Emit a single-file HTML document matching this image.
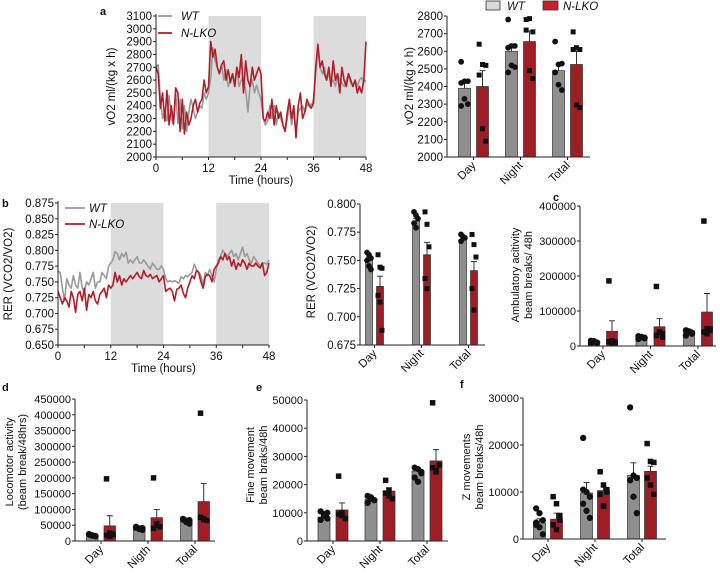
<!DOCTYPE html>
<html><head><meta charset="utf-8"><style>
html,body{margin:0;padding:0;background:#fff;}
svg{display:block;font-family:"Liberation Sans",Arial,sans-serif;}
</style></head><body>
<svg id="fig" width="720" height="573" viewBox="0 0 720 573" xmlns="http://www.w3.org/2000/svg"></svg>
<script>
// ---------- Data ----------
const vo2WT = [2700,2720,2450,2300,2350,2280,2480,2300,2250,2500,2260,2450,2220,2400,2200,2350,2450,2380,2300,2350,2400,2380,2500,2450,2500,2620,2850,2750,2700,2650,2720,2600,2680,2550,2600,2650,2580,2700,2550,2600,2620,2520,2350,2550,2600,2500,2560,2500,2450,2300,2250,2280,2400,2300,2400,2250,2350,2300,2250,2200,2300,2400,2250,2350,2200,2350,2380,2400,2350,2400,2420,2400,2450,2650,2850,2700,2650,2700,2600,2650,2580,2600,2550,2650,2600,2580,2550,2600,2650,2580,2550,2600,2550,2600,2620,2580,2600];
const vo2KO = [2700,2650,2380,2500,2280,2520,2250,2400,2260,2540,2500,2200,2450,2180,2350,2250,2300,2400,2450,2350,2420,2450,2600,2500,2550,2900,2780,2840,2700,2650,2720,2750,2600,2680,2580,2650,2550,2700,2620,2800,2500,2750,2600,2550,2700,2600,2650,2700,2650,2300,2280,2350,2300,2450,2250,2400,2300,2350,2250,2200,2350,2450,2300,2400,2150,2400,2500,2300,2350,2450,2400,2380,2420,2700,2880,2700,2750,2650,2600,2700,2550,2750,2600,2650,2500,2700,2600,2550,2650,2600,2550,2600,2500,2550,2500,2600,2900];
const rerWT = [0.767,0.765,0.74,0.72,0.755,0.745,0.74,0.76,0.745,0.74,0.765,0.74,0.735,0.75,0.745,0.755,0.765,0.74,0.75,0.75,0.765,0.76,0.755,0.775,0.78,0.785,0.798,0.795,0.785,0.795,0.79,0.797,0.78,0.785,0.78,0.785,0.79,0.78,0.78,0.785,0.78,0.775,0.77,0.78,0.775,0.77,0.77,0.775,0.77,0.755,0.75,0.752,0.75,0.752,0.75,0.748,0.758,0.755,0.76,0.758,0.762,0.765,0.778,0.77,0.765,0.76,0.745,0.765,0.76,0.77,0.76,0.75,0.77,0.785,0.79,0.8,0.795,0.79,0.795,0.8,0.79,0.795,0.785,0.795,0.805,0.79,0.795,0.785,0.78,0.79,0.785,0.78,0.775,0.78,0.78,0.778,0.785];
const rerKO = [0.735,0.725,0.715,0.725,0.72,0.71,0.735,0.725,0.702,0.73,0.735,0.72,0.74,0.705,0.73,0.725,0.735,0.72,0.715,0.73,0.735,0.74,0.725,0.745,0.74,0.745,0.765,0.75,0.76,0.745,0.755,0.75,0.755,0.76,0.755,0.76,0.765,0.758,0.755,0.768,0.76,0.758,0.762,0.755,0.758,0.76,0.75,0.755,0.76,0.735,0.738,0.74,0.735,0.72,0.738,0.74,0.745,0.732,0.725,0.74,0.75,0.76,0.755,0.768,0.765,0.75,0.74,0.758,0.762,0.76,0.75,0.77,0.775,0.78,0.79,0.785,0.795,0.785,0.79,0.775,0.785,0.77,0.78,0.775,0.785,0.78,0.77,0.78,0.775,0.775,0.78,0.775,0.772,0.78,0.76,0.765,0.78];
const timeTicks = [0,12,24,36,48];
const darkPeriods = [[12,24],[36,48]];
const vo2LineTicks = [2000,2100,2200,2300,2400,2500,2600,2700,2800,2900,3000,3100];
const rerLineTicks = [0.650,0.675,0.700,0.725,0.750,0.775,0.800,0.825,0.850,0.875];

const categoriesA = ["Day","Night","Total"];
const categoriesD = ["Day","Nigth","Total"];

const vo2BarWT = [2390,2600,2490];
const vo2BarKO = [2400,2655,2525];
const vo2ErrWT = [30,40,35];
const vo2ErrKO = [90,60,75];
const vo2PtsWT = [[2540,2430,2430,2420,2330,2300,2290],[2780,2630,2630,2620,2520,2510,2480],[2655,2525,2530,2480,2410,2380]];
const vo2PtsKO = [[2640,2525,2520,2465,2160,2090],[2780,2785,2710,2720,2490,2445],[2710,2620,2610,2610,2295,2280]];
const vo2BarTicks = [2000,2100,2200,2300,2400,2500,2600,2700,2800];

const rerBarWT = [0.751,0.785,0.768];
const rerBarKO = [0.727,0.755,0.741];
const rerErrWT = [0.002,0.002,0.001];
const rerErrKO = [0.009,0.011,0.008];
const rerPtsWT = [[0.757,0.755,0.752,0.750,0.745,0.742],[0.793,0.790,0.787,0.783,0.779],[0.773,0.771,0.770,0.767]];
const rerPtsKO = [[0.755,0.744,0.743,0.719,0.713,0.688],[0.793,0.782,0.762,0.734,0.725],[0.773,0.764,0.753,0.725,0.706]];
const rerBarTicks = [0.675,0.700,0.725,0.750,0.775,0.800];

const ambBarWT = [12000,25000,38000];
const ambBarKO = [42000,55000,97000];
const ambErrWT = [2000,2000,3000];
const ambErrKO = [30000,23000,53000];
const ambPtsWT = [[15000,12000,10000,8000,14000,9000],[28000,25000,22000,20000,26000,24000],[45000,40000,35000,30000,42000,38000]];
const ambPtsKO = [[186000,15000,10000,12000,8000,10000],[170000,40000,35000,30000,40000,25000],[357000,50000,45000,40000,35000,48000]];
const ambTicks = [0,100000,200000,300000,400000];

const locBarWT = [18000,40000,62000];
const locBarKO = [48000,74000,125000];
const locErrWT = [2000,2500,3000];
const locErrKO = [32000,26000,57000];
const locPtsWT = [[22000,18000,15000,20000,17000,16000],[45000,40000,35000,42000,38000,41000],[70000,65000,55000,68000,60000,66000]];
const locPtsKO = [[197000,25000,20000,18000,15000,22000],[200000,55000,45000,40000,50000],[405000,70000,65000,75000,68000]];
const locTicks = [0,50000,100000,150000,200000,250000,300000,350000,400000,450000];

const fineBarWT = [8500,14800,24800];
const fineBarKO = [11000,17700,28400];
const fineErrWT = [600,500,900];
const fineErrKO = [2500,1200,4000];
const finePtsWT = [[10500,9500,8000,7500,9000,10000],[16000,15500,14500,13500,15000],[26000,25500,24000,22500,21000,24500]];
const finePtsKO = [[23000,9000,8000,9500,10000],[21500,16000,15000,17000,18000],[49000,25000,27000,26000,24500]];
const fineTicks = [0,10000,20000,30000,40000,50000];

const zBarWT = [3400,9800,13500];
const zBarKO = [4200,10300,14400];
const zErrWT = [900,2200,2700];
const zErrKO = [1300,800,1100];
const zPtsWT = [[6500,5500,4000,3500,2500,1000,3000],[21500,10000,9000,7500,6000,4500,10500],[28000,13500,13000,12500,9000,5500]];
const zPtsKO = [[9000,7500,4000,3000,2000,5000],[14300,11500,10500,9500,7000,10000],[20300,16500,16300,13000,11500,9500]];
const zTicks = [0,10000,20000,30000];

// ---------- Helpers ----------
const NS = "http://www.w3.org/2000/svg";
const svg = document.getElementById("fig");
const GREY = "#8e8e8e", RED = "#9f1d25", LGREY = "#9a9a9a", LRED = "#b01e28";
function mk(tag, attrs, parent){
  const e = document.createElementNS(NS, tag);
  for (const k in attrs) e.setAttribute(k, attrs[k]);
  (parent||svg).appendChild(e);
  return e;
}
function txt(x,y,s,size,anchor,parent,extra){
  const t = mk("text",Object.assign({x:x,y:y,"font-size":size,"text-anchor":anchor||"start",fill:"#111"},extra||{}),parent);
  t.textContent = s;
  return t;
}
function lin(d0,d1,r0,r1){ return v => r0 + (v-d0)/(d1-d0)*(r1-r0); }

function panelLetter(x,y,s){
  const t = txt(x,y,s,11,"start",svg,{"font-weight":"bold"});
  
  
}

// ---------- Time-course line panel ----------
function linePanel(cfg){
  const g = mk("g",{});
  
  
  const X = lin(0,48,cfg.x0,cfg.x1), Y = lin(cfg.ymin,cfg.ymax,cfg.yb,cfg.yt);
  darkPeriods.forEach(p=>{
    const r = mk("rect",{x:X(p[0]),y:cfg.yt,width:X(p[1])-X(p[0]),height:cfg.yb-cfg.yt,fill:"#dcdcdc"},g);
    
    
  });
  const series = [[cfg.wt,LGREY,"wt-line"],[cfg.ko,LRED,"nlko-line"]];
  series.forEach(s=>{
    const n = s[0].length;
    const pts = s[0].map((v,i)=>X(i*48/(n-1)).toFixed(1)+","+Y(v).toFixed(1)).join(" ");
    const pl = mk("polyline",{points:pts,fill:"none",stroke:s[1],"stroke-width":1.6,"stroke-linejoin":"round"},g);
    
    
  });
  mk("line",{x1:cfg.x0,y1:cfg.yt-2,x2:cfg.x0,y2:cfg.yb,stroke:"#222","stroke-width":1},g);
  mk("line",{x1:cfg.x0,y1:cfg.yb,x2:cfg.x1,y2:cfg.yb,stroke:"#222","stroke-width":1},g);
  cfg.yticks.forEach(v=>{
    mk("line",{x1:cfg.x0-3,y1:Y(v),x2:cfg.x0,y2:Y(v),stroke:"#222"},g);
    const t = txt(cfg.x0-4,Y(v)+4,cfg.fmt(v),11.5,"end",g);
    
    
  });
  for(let h=0;h<=48;h+=6){ mk("line",{x1:X(h),y1:cfg.yb,x2:X(h),y2:cfg.yb+3,stroke:"#222"},g); }
  timeTicks.forEach(h=>{
    const t = txt(X(h),cfg.yb+15,String(h),11.5,"middle",g);
    
    
  });
  const xt = txt((cfg.x0+cfg.x1)/2,cfg.yb+27,"Time (hours)",11.5,"middle",g);
  
  
  const yt = txt(0,0,cfg.ylabel,11.5,"middle",g,{transform:`translate(${cfg.ylx},${(cfg.yt+cfg.yb)/2}) rotate(-90)`});
  
  
  const L = cfg.legend;
  [["WT",LGREY,0],["N-LKO",LRED,1]].forEach(e=>{
    const lg = mk("g",{},g);
    
    
    const yy = L.y + e[2]*L.dy;
    mk("line",{x1:L.x,y1:yy,x2:L.x+L.w,y2:yy,stroke:e[1],"stroke-width":1.8},lg);
    txt(L.tx,yy+4,e[0],11.5,"start",lg,{"font-style":"italic"});
  });
}

// ---------- Bar panel ----------
function barPanel(cfg){
  const g = mk("g",{});
  
  
  const Y = lin(cfg.ymin,cfg.ymax,cfg.yb,cfg.yt);
  const bw = cfg.bw;
  const fs = cfg.fs || 11.5;
  cfg.cats.forEach((c,i)=>{
    const cx = cfg.first + i*cfg.step;
    const groups = [[cfg.wt,cfg.ewt,cfg.pwt,GREY,cx-cfg.gap/2-bw/2,"wt","circle"],[cfg.ko,cfg.eko,cfg.pko,RED,cx+cfg.gap/2+bw/2,"nlko","square"]];
    groups.forEach(gr=>{
      const v = gr[0][i], bx = gr[4];
      const r = mk("rect",{x:bx-bw/2,y:Y(v),width:bw,height:cfg.yb-Y(v),fill:gr[3],stroke:"#333","stroke-width":0.7},g);
      
      
      const e = gr[1][i];
      const eb = mk("path",{d:`M${bx},${Y(v)} V${Y(v+e)} M${bx-3},${Y(v+e)} H${bx+3}`,stroke:"#222","stroke-width":0.9,fill:"none"},g);
      
      
      gr[2][i].forEach((p,j)=>{
        const ox = ((j%3)-1)*bw*0.28;
        let m;
        if(gr[6]==="circle") m = mk("circle",{cx:bx+ox,cy:Y(p),r:cfg.ms/2+0.4,fill:"#111"},g);
        else m = mk("rect",{x:bx+ox-cfg.ms/2,y:Y(p)-cfg.ms/2,width:cfg.ms,height:cfg.ms,fill:"#111"},g);
        
        
      });
    });
    mk("line",{x1:cx,y1:cfg.yb,x2:cx,y2:cfg.yb+3,stroke:"#222"},g);
    const t = txt(0,0,c,11.5,"end",g,{transform:`translate(${cx+3},${cfg.yb+9}) rotate(-45)`});
    
    
  });
  mk("line",{x1:cfg.x0,y1:cfg.yt,x2:cfg.x0,y2:cfg.yb,stroke:"#222"},g);
  mk("line",{x1:cfg.x0,y1:cfg.yb,x2:cfg.x1,y2:cfg.yb,stroke:"#222"},g);
  cfg.ticks.forEach(v=>{
    mk("line",{x1:cfg.x0-3,y1:Y(v),x2:cfg.x0,y2:Y(v),stroke:"#222"},g);
    const t = txt(cfg.x0-4,Y(v)+4,cfg.fmt?cfg.fmt(v):String(v),fs,"end",g);
    
    
  });
  cfg.ylabel.forEach((s,k)=>{
    const t = txt(0,0,s,fs,"middle",g,{transform:`translate(${cfg.ylx+k*cfg.lsp},${cfg.lyc}) rotate(-90)`});
    
    
  });
}

// ---------- Build ----------
panelLetter(100,15,"a");
linePanel({name:"vo2-timecourse-chart",x0:156,x1:366,yt:16,yb:157,ymin:2000,ymax:3100,yticks:vo2LineTicks,fmt:v=>String(v),
  wt:vo2WT,ko:vo2KO,ylabel:"vO2 ml/(kg x h)",ylx:115,legend:{x:158,w:14,tx:181,y:16,dy:17}});

(function(){
  const lg = mk("g",{});
  
  
  const a = mk("rect",{x:486,y:1,width:14,height:9,fill:"#d9d9d9",stroke:"#333","stroke-width":0.8},lg);
  
  
  txt(507,10,"WT",11.5,"start",lg,{"font-style":"italic"});
  const b = mk("rect",{x:543,y:1,width:15,height:9,fill:"#c8202e",stroke:"#333","stroke-width":0.8},lg);
  
  
  txt(563,10,"N-LKO",11.5,"start",lg,{"font-style":"italic"});
})();

barPanel({name:"vo2-bar-chart",x0:447,x1:590,yt:16,yb:157,ymin:2000,ymax:2800,ticks:vo2BarTicks,cats:categoriesA,
  first:473.5,step:47,gap:6,bw:12,ms:5,wt:vo2BarWT,ko:vo2BarKO,ewt:vo2ErrWT,eko:vo2ErrKO,pwt:vo2PtsWT,pko:vo2PtsKO,
  ylabel:["vO2 ml/(kg x h)"],ylx:413,lyc:86,lsp:0});

panelLetter(2,207,"b");
linePanel({name:"rer-timecourse-chart",x0:58,x1:269,yt:203,yb:345,ymin:0.650,ymax:0.875,yticks:rerLineTicks,fmt:v=>v.toFixed(3),
  wt:rerWT,ko:rerKO,ylabel:"RER (VCO2/VO2)",ylx:12,legend:{x:65,w:20,tx:89,y:208,dy:16}});

barPanel({name:"rer-bar-chart",x0:360,x1:485,yt:204,yb:345,ymin:0.675,ymax:0.800,ticks:rerBarTicks,fmt:v=>v.toFixed(3),cats:categoriesA,
  first:374.5,step:47,gap:4,bw:7,ms:5,wt:rerBarWT,ko:rerBarKO,ewt:rerErrWT,eko:rerErrKO,pwt:rerPtsWT,pko:rerPtsKO,
  ylabel:["RER (VCO2/VO2)"],ylx:315,lyc:272,lsp:0});

panelLetter(553,201,"c");
barPanel({name:"ambulatory-bar-chart",x0:580,x1:716,yt:206,yb:346,ymin:0,ymax:400000,ticks:ambTicks,cats:categoriesA,fs:11,
  first:603,step:47.5,gap:7,bw:11,ms:5.5,wt:ambBarWT,ko:ambBarKO,ewt:ambErrWT,eko:ambErrKO,pwt:ambPtsWT,pko:ambPtsKO,
  ylabel:["Ambulatory acitivity","beam breaks/ 48h"],ylx:519,lsp:13,lyc:275});

panelLetter(2,391,"d");
barPanel({name:"locomotor-bar-chart",x0:75,x1:215,yt:399,yb:541,ymin:0,ymax:450000,ticks:locTicks,cats:categoriesD,fs:11,
  first:101,step:47,gap:6,bw:11.5,ms:5.5,wt:locBarWT,ko:locBarKO,ewt:locErrWT,eko:locErrKO,pwt:locPtsWT,pko:locPtsKO,
  ylabel:["Locomotor activity","(beam break/48hrs)"],ylx:13,lsp:13,lyc:462});

panelLetter(256,391,"e");
barPanel({name:"fine-movement-bar-chart",x0:307,x1:448,yt:400,yb:541,ymin:0,ymax:50000,ticks:fineTicks,cats:categoriesA,fs:11,
  first:333,step:47,gap:6,bw:12,ms:5.5,wt:fineBarWT,ko:fineBarKO,ewt:fineErrWT,eko:fineErrKO,pwt:finePtsWT,pko:finePtsKO,
  ylabel:["Fine movement","beam braks/48h"],ylx:254,lsp:13,lyc:465});

panelLetter(460,388,"f");
barPanel({name:"z-movement-bar-chart",x0:523,x1:666,yt:398,yb:539,ymin:0,ymax:30000,ticks:zTicks,cats:categoriesA,fs:11,
  first:548,step:47,gap:5,bw:12,ms:5.5,wt:zBarWT,ko:zBarKO,ewt:zErrWT,eko:zErrKO,pwt:zPtsWT,pko:zPtsKO,
  ylabel:["Z movements","beam breaks/48h"],ylx:470,lsp:13,lyc:467});
</script>
</body></html>
